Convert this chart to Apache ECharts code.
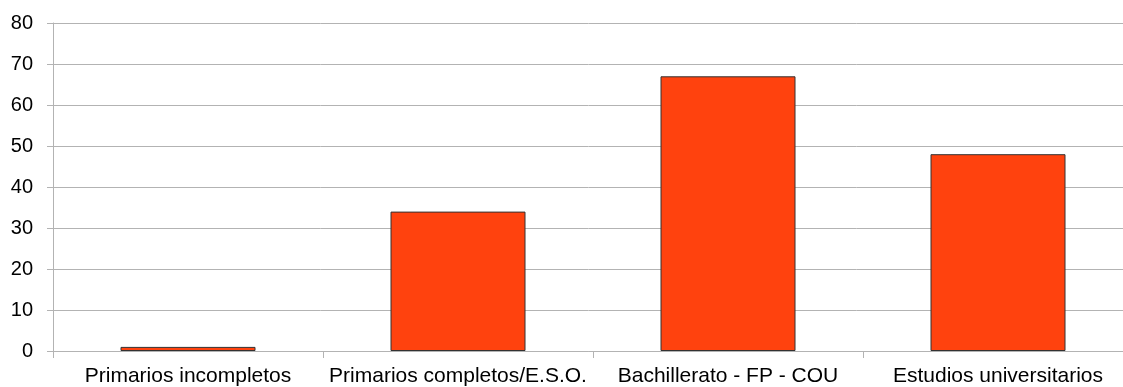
<!DOCTYPE html>
<html>
<head>
<meta charset="utf-8">
<style>
  html, body { margin: 0; padding: 0; background: #ffffff; }
  #chart { width: 1123px; height: 387px; }
</style>
<script src="https://cdn.jsdelivr.net/npm/echarts@6/dist/echarts.min.js"></script>
</head>
<body>
<div id="chart"></div>
<script>
// Education level categories and their counts
const categories = [
  'Primarios incompletos',
  'Primarios completos/E.S.O.',
  'Bachillerato - FP - COU',
  'Estudios universitarios'
];
const values = [1, 34, 67, 48];
const yTicks = { min: 0, max: 80, interval: 10 };

const chart = echarts.init(document.getElementById('chart'));
const gridGray = '#b3b3b3';
const textColor = '#000000';
const font = '"Liberation Sans", Arial, sans-serif';

chart.setOption({
  animation: false,
  // plot area runs past the right edge of the canvas
  grid: { left: 53, top: 23, bottom: 36, width: 1080, outerBoundsMode: 'none' },
  xAxis: {
    type: 'category',
    data: categories,
    axisLine: { show: true, lineStyle: { color: gridGray, width: 1 } },
    axisTick: { show: true, length: 7, alignWithLabel: false, lineStyle: { color: gridGray } },
    axisLabel: { color: textColor, fontFamily: font, fontSize: 21, margin: 15, interval: 0 },
    splitLine: { show: false }
  },
  yAxis: {
    type: 'value',
    min: yTicks.min,
    max: yTicks.max,
    interval: yTicks.interval,
    axisLine: { show: true, lineStyle: { color: gridGray, width: 1 } },
    axisTick: { show: true, length: 6, lineStyle: { color: gridGray } },
    axisLabel: { color: textColor, fontFamily: font, fontSize: 20, margin: 20 },
    splitLine: { show: true, lineStyle: { color: gridGray, width: 1 } }
  },
  series: [{
    type: 'bar',
    data: values,
    barWidth: '50%',
    itemStyle: { color: '#ff420e', borderColor: '#333333', borderWidth: 1 }
  }]
});
</script>
</body>
</html>
